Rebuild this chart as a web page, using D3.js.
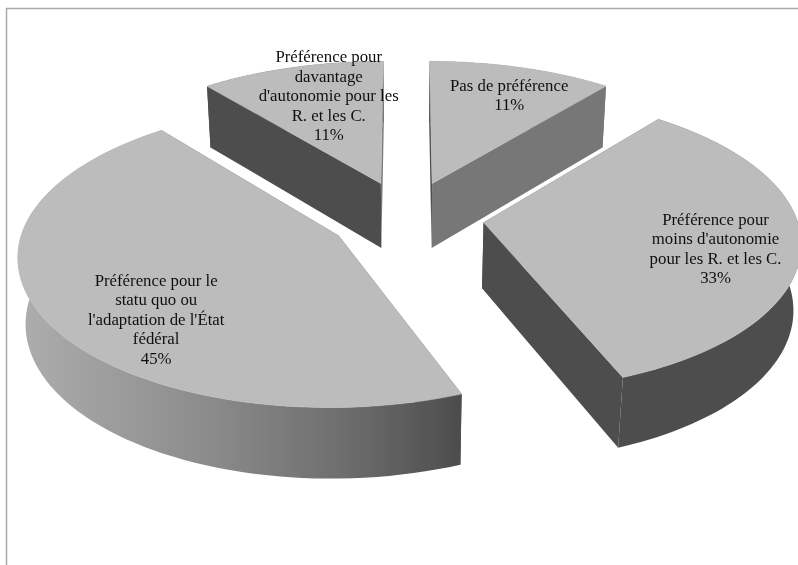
<!DOCTYPE html>
<html lang="fr">
<head>
<meta charset="utf-8">
<script src="https://cdn.jsdelivr.net/npm/d3@7"></script>
<style>
html,body{margin:0;padding:0;background:#fff;}
svg{display:block;}
text{font-family:"Liberation Serif","Times New Roman",serif;font-size:16.8px;fill:#111;text-anchor:middle;}
</style>
</head>
<body>
<svg id="chart" width="798" height="565"></svg>
<script>
// Data
const categories = ["Pas de préférence",
  "Préférence pour moins d'autonomie pour les R. et les C.",
  "Préférence pour le statu quo ou l'adaptation de l'État fédéral",
  "Préférence pour davantage d'autonomie pour les R. et les C."];
const shares = [11, 33, 45, 11];
const labelLines = [
  ["Pas de préférence", "11%"],
  ["Préférence pour", "moins d'autonomie", "pour les R. et les C.", "33%"],
  ["Préférence pour le", "statu quo ou", "l'adaptation de l'État", "fédéral", "45%"],
  ["Préférence pour", "davantage", "d'autonomie pour les", "R. et les C.", "11%"]
];
// Styling, per slice
const labelRadius = [0.756, 0.759, 0.76, 0.72];
const labelBearing = [22.3, 103.7, 225.3, 344.2];
const startWallFill = ["#4d4d4d", "#4d4d4d", "#4d4d4d", "#4d4d4d"];
const endWallFill = ["#777777", "#4d4d4d", "#4d4d4d", "#777777"];
const rimFill = ["#777777", "#4d4d4d", "url(#rim)", "#4d4d4d"];
const topFill = "#bcbcbc";

// Perspective camera: plane units are pie radii, depth 0 = top, 1 = bottom
const cam = {X0: 406.5, Yv: -1040, A: 309, C: 1275, b: 0.1155, d: 0.02, E: 93};
const pieCentre = {x: 0, y: 0.125};
const explode = 0.255;
const bulge = 0.027;

function project(x, y, depth) {
  const w = 1 + cam.b * y + cam.d * depth;
  return [cam.X0 + cam.A * x / w, cam.Yv + (cam.C + cam.E * depth) / w];
}
// The source's rim is slightly fuller on its sides and near edge than a true circle
function rimRadius(t) {
  const s = Math.sin(t);
  return 1 + bulge * (Math.cos(t) > 0 ? s * s : 1);
}

const svg = d3.select("#chart");
const defs = svg.append("defs");

const grad = defs.append("linearGradient")
  .attr("id", "rim").attr("gradientUnits", "userSpaceOnUse")
  .attr("x1", 22).attr("x2", 460).attr("y1", 0).attr("y2", 0);
[[0, "#adadad"], [0.45, "#898989"], [0.75, "#6c6c6c"], [1, "#4d4d4d"]].forEach(s =>
  grad.append("stop").attr("offset", s[0]).attr("stop-color", s[1]));

defs.append("filter").attr("id", "soft")
  .attr("x", 0).attr("y", 0).attr("width", 798).attr("height", 565)
  .attr("filterUnits", "userSpaceOnUse")
  .append("feGaussianBlur").attr("stdDeviation", 0.35);

const root = svg.append("g").attr("filter", "url(#soft)");

// Frame
root.append("path")
  .attr("d", d3.line()([[6.5, 565], [6.5, 8.5], [798, 8.5]]))
  .attr("fill", "none").attr("stroke", "#a9a9a9").attr("stroke-width", 1.5);

const pie = d3.pie().sort(null).startAngle(0).endAngle(2 * Math.PI);
const arcs = pie(shares);
const line = d3.line();

arcs.forEach((a, i) => {
  const mid = (a.startAngle + a.endAngle) / 2;
  const ox = pieCentre.x + explode * Math.sin(mid);
  const oy = pieCentre.y + explode * Math.cos(mid);
  const rim = depth => d3.range(0, 81).map(k => {
    const t = a.startAngle + (a.endAngle - a.startAngle) * k / 80;
    const r = rimRadius(t);
    return project(ox + r * Math.sin(t), oy + r * Math.cos(t), depth);
  });
  const apex = depth => project(ox, oy, depth);
  const g = root.append("g").attr("class", "slice").datum(a);

  const top = rim(0), bottom = rim(1);
  const wall = (pts, fill) => g.append("path")
    .attr("d", line(pts) + "Z").attr("fill", fill);
  const rimWall = () => wall(top.concat(bottom.slice().reverse()), rimFill[i]);

  // A rim facing away goes behind the straight walls, a rim facing the viewer in front
  const rimFaces = Math.cos(mid) < 0;
  if (!rimFaces) rimWall();
  wall([apex(0), top[0], bottom[0], apex(1)], startWallFill[i]);
  wall([apex(0), top[80], bottom[80], apex(1)], endWallFill[i]);
  if (rimFaces) rimWall();
  g.append("path").attr("d", line([apex(0)].concat(top)) + "Z")
    .attr("fill", topFill).attr("stroke", topFill).attr("stroke-width", 0.6);
});

// Labels sit on top of every slice
arcs.forEach((a, i) => {
  const mid = (a.startAngle + a.endAngle) / 2;
  const ox = pieCentre.x + explode * Math.sin(mid);
  const oy = pieCentre.y + explode * Math.cos(mid);
  const br = labelBearing[i] * Math.PI / 180;
  const p = project(ox + labelRadius[i] * Math.sin(br), oy + labelRadius[i] * Math.cos(br), 0);
  const lh = 19.6, lines = labelLines[i];
  const t = root.append("text").attr("x", p[0]).attr("y", p[1] - (lines.length - 1) * lh / 2 + 5);
  lines.forEach((l, j) => t.append("tspan").attr("x", p[0]).attr("dy", j ? lh : 0).text(l));
});
</script>
</body>
</html>
